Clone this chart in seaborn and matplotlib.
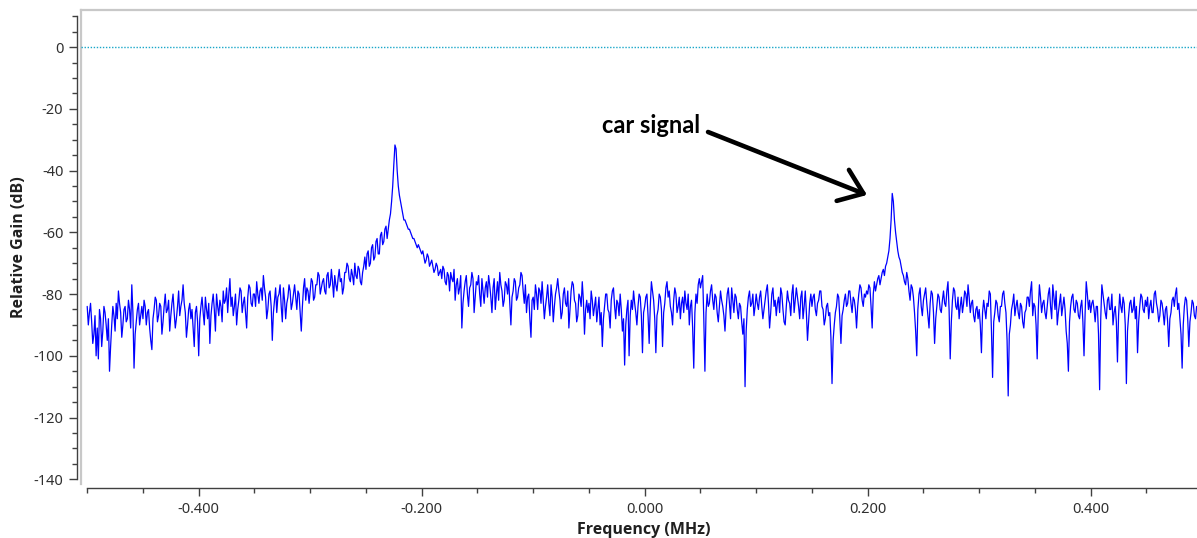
import numpy as np
import matplotlib
matplotlib.use("Agg")
import matplotlib.pyplot as plt
import seaborn as sns
from matplotlib.ticker import MultipleLocator, FormatStrFormatter

# spectrum, one FFT bin every 0.001 MHz from -0.5 to +0.5
bin_step_mhz = 0.001

noise_left = [
    -84, -90, -86, -83, -89, -96, -93, -87, -100, -91, -101, -85, -88, -97, -92, -84, -86, -90, -95, -88, -105, -97, -90, -84, -87,
    -92, -83, -88, -79, -83, -86, -94, -90, -85, -84, -89, -88, -82, -85, -91, -77, -86, -104, -93, -89, -85, -83, -90, -87, -84,
    -88, -82, -84, -90, -86, -85, -91, -95, -98, -88, -85, -81, -82, -89, -87, -83, -84, -93, -89, -84, -80, -86, -85, -82, -92,
    -87, -83, -80, -86, -91, -88, -84, -79, -87, -84, -82, -77, -83, -86, -94, -90, -85, -83, -88, -85, -91, -97, -86, -84, -89,
    -100, -88, -84, -81, -86, -90, -81, -85, -88, -83, -96, -87, -83, -80, -85, -92, -80, -84, -87, -82, -84, -89, -79, -83, -82,
    -78, -86, -80, -75, -84, -81, -87, -84, -80, -90, -85, -82, -78, -79, -86, -83, -81, -86, -91, -81, -77, -78, -83, -84, -80,
    -80, -84, -76, -80, -83, -79, -78, -82, -74, -78, -81, -88, -85, -80, -79, -84, -95, -86, -82, -78, -86, -81, -80, -77, -84,
    -89, -78, -82, -88, -83, -81, -77, -79, -85, -83, -80, -77, -81, -85, -79, -80, -86, -92, -84, -78, -75, -82, -78, -79, -83,
    -79, -75, -76, -82, -81, -77, -77, -73, -74, -80, -78, -76, -75, -79, -80, -74, -73, -78, -77, -72, -76, -81, -74, -77, -79,
    -75, -72, -76, -75, -80, -78, -73, -73, -70, -71, -75, -76, -72, -74, -77, -70, -74, -75, -71, -72, -76, -77, -73, -71, -68,
]
peak_left = [
    -72, -67, -66, -71, -70, -65, -64, -69, -68, -63, -62, -67, -67, -61, -60, -64, -63, -59, -58, -62, -59, -56, -54, -50, -45,
    -38, -31.7, -33, -40, -45, -48, -50, -52, -54, -56, -56, -57, -58, -59, -59, -60, -61, -62, -62, -63, -64, -65, -64, -65, -66,
    -67, -66, -68, -70, -69, -67, -68, -71, -70, -69, -71, -73, -72, -70, -71, -74, -73, -72, -75, -71, -72, -76, -77, -73, -74,
    -79, -73, -75, -76, -72, -82, -77, -75, -80, -78, -74, -91, -83, -79, -76, -74, -80, -84, -78, -77, -73, -75, -86, -81, -76,
]
noise_mid = [
    -77, -74, -80, -84, -75, -79, -83, -78, -76, -81, -74, -77, -81, -86, -78, -75, -85, -80, -76, -82, -73, -77, -79, -84, -82,
    -76, -77, -80, -75, -83, -90, -81, -79, -75, -76, -82, -81, -78, -77, -73, -74, -79, -83, -77, -86, -81, -80, -88, -94, -82,
    -81, -85, -77, -80, -85, -78, -79, -83, -76, -82, -88, -84, -81, -77, -83, -87, -77, -81, -89, -84, -80, -78, -75, -79, -82,
    -88, -86, -80, -78, -83, -84, -79, -91, -85, -79, -76, -77, -82, -83, -89, -87, -80, -81, -84, -76, -82, -93, -85, -82, -86,
    -83, -88, -79, -82, -87, -84, -81, -89, -85, -81, -90, -86, -97, -88, -84, -80, -80, -85, -86, -91, -82, -79, -78, -84, -88,
    -82, -83, -87, -80, -85, -92, -88, -103, -90, -85, -82, -100, -87, -82, -85, -79, -83, -86, -90, -84, -80, -81, -87, -99, -86,
    -84, -81, -80, -87, -96, -84, -76, -79, -82, -88, -99, -87, -85, -80, -81, -85, -97, -86, -83, -78, -76, -81, -79, -84, -86,
    -90, -82, -78, -80, -86, -84, -81, -88, -83, -81, -86, -79, -83, -85, -80, -90, -84, -82, -91, -104, -86, -80, -83, -77, -75,
    -78, -76, -74, -88, -105, -86, -80, -84, -83, -79, -77, -82, -85, -80, -81, -86, -89, -84, -79, -82, -84, -87, -92, -85, -80,
    -78, -83, -88, -78, -82, -86, -80, -81, -85, -88, -83, -84, -89, -93, -88, -110, -92, -85, -81, -79, -84, -83, -80, -87, -84,
    -80, -83, -85, -81, -79, -84, -88, -85, -82, -79, -77, -83, -91, -86, -80, -78, -84, -82, -87, -83, -81, -86, -78, -80, -85,
    -89, -90, -84, -79, -82, -83, -87, -80, -77, -86, -82, -78, -81, -84, -88, -81, -79, -88, -84, -79, -86, -95, -89, -83, -80,
    -84, -81, -80, -85, -87, -83, -82, -79, -79, -84, -85, -90, -88, -84, -83, -87, -86, -94, -109, -95, -90, -86, -84, -80, -81,
    -88, -96, -87, -85, -82, -80, -84, -83, -79, -79, -83, -86, -81, -82, -85, -91, -84, -80, -77, -78, -82, -84, -80, -81, -79,
]
peak_car = [
    -80, -77, -78, -84, -91, -80, -76, -79, -77, -75, -74, -77, -75, -73, -72, -74, -71, -70, -68, -66, -62, -56, -47.4, -50, -56,
    -60, -63, -66, -68, -69, -71, -73, -74, -76, -77, -73, -75, -79, -82, -77, -78, -81, -86, -92, -100, -85, -80, -78, -84, -87,
]
noise_right = [
    -82, -80, -78, -83, -87, -91, -83, -79, -80, -86, -96, -88, -84, -80, -81, -85, -86, -82, -79, -83, -84, -79, -76, -85, -101,
    -89, -82, -78, -79, -84, -85, -81, -88, -84, -81, -86, -83, -79, -80, -84, -77, -81, -86, -83, -82, -87, -89, -85, -84, -88,
    -85, -90, -99, -86, -82, -85, -88, -83, -84, -79, -80, -92, -107, -89, -86, -82, -83, -87, -89, -84, -84, -80, -79, -83, -86,
    -95, -113, -93, -90, -85, -83, -80, -87, -84, -82, -86, -88, -83, -84, -89, -91, -86, -85, -81, -81, -84, -79, -76, -87, -83,
    -84, -90, -101, -85, -77, -81, -86, -83, -82, -86, -88, -84, -80, -78, -84, -88, -77, -81, -85, -79, -90, -86, -83, -80, -87,
    -84, -81, -85, -92, -96, -105, -89, -84, -81, -80, -85, -86, -82, -83, -87, -88, -84, -82, -89, -100, -86, -76, -80, -85, -82,
    -86, -83, -82, -85, -89, -84, -84, -93, -111, -88, -77, -80, -83, -86, -88, -82, -81, -85, -85, -80, -90, -86, -84, -89, -102,
    -87, -80, -84, -86, -81, -83, -90, -109, -92, -87, -83, -82, -86, -85, -81, -88, -84, -99, -89, -84, -80, -81, -85, -86, -82,
    -84, -81, -88, -84, -82, -86, -86, -80, -79, -83, -85, -89, -87, -82, -83, -86, -90, -85, -84, -89, -97, -88, -86, -82, -81,
    -84, -80, -78, -85, -83, -88, -93, -104, -90, -84, -81, -82, -88, -97, -89, -86, -82, -83, -87, -88, -84, -85, -81, -87, -84,
    -86,
]

x_ticks = [-0.4, -0.2, 0.0, 0.2, 0.4]
y_ticks = [-140, -120, -100, -80, -60, -40, -20, 0]

gain_db = np.array(noise_left + peak_left + noise_mid + peak_car + noise_right)
assert len(gain_db) == 1001, len(gain_db)
freq_mhz = -0.5 + bin_step_mhz * np.arange(len(gain_db))

sns.set_style("ticks")
plt.rcParams["font.family"] = ["Noto Sans", "DejaVu Sans"]

W, H = 1197, 538
fig = plt.figure(figsize=(W / 100, H / 100), dpi=100)

# canvas box in pixels (right edge runs off the screenshot)
left_px, right_px, top_px, bot_px = 81, 1208, 10.3, 484
rect = [left_px / W, 1 - bot_px / H, (right_px - left_px) / W, (bot_px - top_px) / H]

# sunken grey frame behind the plot
frame = fig.add_axes(rect)
frame.set_xticks([])
frame.set_yticks([])
for side in ["right", "bottom"]:
    frame.spines[side].set_visible(False)
for side in ["left", "top"]:
    frame.spines[side].set_color("#c8c8c8")
    frame.spines[side].set_linewidth(1.6)

ax = fig.add_axes(rect)
ax.patch.set_alpha(0)

sns.lineplot(x=freq_mhz, y=gain_db, ax=ax, color="#0000ff", linewidth=0.9,
             estimator=None, sort=False)
ax.axhline(0, color="#1aa7c9", linewidth=1.0, linestyle=(0, (1, 1.2)))

# pixel -> data: x = 644.7 + 1115*f, y = 47.1 - 3.087*dB
ax.set_xlim((left_px - 644.7) / 1115, (right_px - 644.7) / 1115)
ax.set_ylim((47.1 - bot_px) / 3.087, (47.1 - top_px) / 3.087)

for side in ["top", "right"]:
    ax.spines[side].set_visible(False)
axis_col = "#404040"
ax.spines["left"].set_position(("outward", 2.9))
ax.spines["left"].set_bounds(-140, 10)
ax.spines["bottom"].set_position(("outward", 3.1))
ax.spines["bottom"].set_bounds(-0.5, 0.5)
for side in ["left", "bottom"]:
    ax.spines[side].set_color(axis_col)
    ax.spines[side].set_linewidth(1.0)

ax.set_xticks(x_ticks)
ax.xaxis.set_minor_locator(MultipleLocator(0.05))
ax.xaxis.set_major_formatter(FormatStrFormatter("%.3f"))
ax.set_yticks(y_ticks)
ax.yaxis.set_minor_locator(MultipleLocator(5))
ax.yaxis.set_major_formatter(FormatStrFormatter("%d"))
ax.tick_params(which="major", direction="out", length=5.8, width=1.0,
               color=axis_col, labelcolor="#303030", labelsize=10.5, pad=4)
ax.tick_params(which="minor", direction="out", length=3.6, width=1.0, color=axis_col)
ax.set_xlabel("")
ax.set_ylabel("")

title_font = ["Open Sans", "DejaVu Sans"]
fig.text(19 / W, 1 - 247 / H, "Relative Gain (dB)", rotation=90, ha="center", va="center",
         fontsize=11.5, fontweight="bold", family=title_font, color="#202020")
fig.text(644 / W, 1 - 530 / H, "Frequency (MHz)", ha="center", va="center",
         fontsize=11.5, fontweight="bold", family=title_font, color="#202020")

# hand drawn annotation
ax.text(-0.0383, -27.9, "car signal", fontsize=17, fontweight="bold",
        family=["Lato", "DejaVu Sans"], color="black", ha="left", va="baseline")
ax.annotate("", xy=(0.1994, -47.9), xytext=(0.0568, -27.5),
            arrowprops=dict(arrowstyle="->,head_length=0.8,head_width=0.6",
                            lw=3.3, color="black", mutation_scale=20,
                            shrinkA=0, shrinkB=0))

fig.savefig("out.png", dpi=100)
